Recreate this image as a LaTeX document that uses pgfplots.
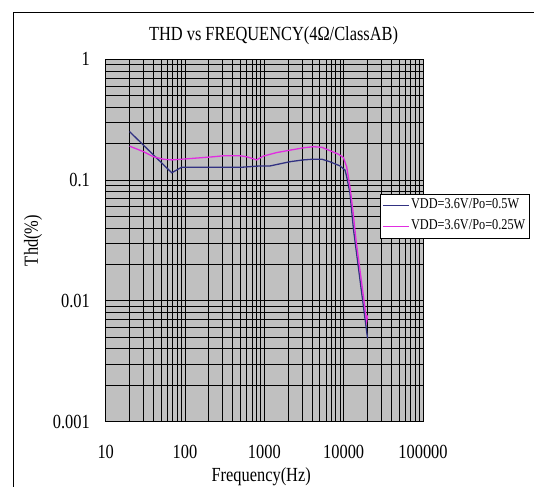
\documentclass[border=0pt]{standalone}
\usepackage{fontspec}
\setmainfont{Liberation Serif}[FakeStretch=0.82]
\usepackage{pgfplots}
\pgfplotsset{compat=1.18}
\definecolor{bgray}{RGB}{192,192,192}
\definecolor{navyline}{RGB}{50,50,130}
\definecolor{magline}{RGB}{225,45,225}
\pgfplotstableread{
f thd
20 0.252
68 0.115
91 0.128
540 0.128
880 0.131
1180 0.131
2100 0.142
3100 0.147
4150 0.149
5300 0.149
6700 0.142
9000 0.131
10400 0.121
10900 0.107
12000 0.078
13300 0.039
20000 0.0049
}\seriesA
\pgfplotstableread{
f thd
20 0.191
30 0.172
40 0.156
53 0.149
68 0.147
91 0.149
155 0.153
227 0.156
304 0.159
494 0.159
600 0.156
727 0.150
800 0.147
970 0.158
1430 0.169
2110 0.177
3100 0.185
4150 0.189
5300 0.187
6740 0.175
8570 0.164
9900 0.154
10900 0.129
12000 0.088
13200 0.053
14300 0.032
19500 0.0068
20000 0.0076
}\seriesB
\begin{document}
\begin{tikzpicture}
\useasboundingbox (0,0) rectangle (534bp,-487bp);
\fill[white] (0,0) rectangle (534bp,-487bp);
\draw[line width=1.2bp] (13.5bp,-12.5bp) rectangle (620bp,-620bp);
\begin{axis}[
  at={(105.7bp,-421.7bp)}, anchor=south west,
  scale only axis, width=317.3bp, height=362.4bp,
  xmode=log, ymode=log,
  xmin=10, xmax=100000, ymin=0.001, ymax=1,
  axis background/.style={fill=bgray},
  grid=both,
  major grid style={black, line width=1bp},
  minor grid style={black, line width=1bp},
  major tick length=0pt, minor tick length=0pt,
  axis line style={black, line width=1bp},
  xtick={10,100,1000,10000,100000},
  xticklabels={10,100,1000,10000,100000},
  minor xtick={20,30,40,50,60,70,80,90,200,300,400,500,600,700,800,900,2000,3000,4000,5000,6000,7000,8000,9000,20000,30000,40000,50000,60000,70000,80000,90000},
  ytick={0.001,0.01,0.1,1},
  yticklabels={0.001,0.01,0.1,1},
  minor ytick={0.002,0.003,0.004,0.005,0.006,0.007,0.008,0.009,0.02,0.03,0.04,0.05,0.06,0.07,0.08,0.09,0.2,0.3,0.4,0.5,0.6,0.7,0.8,0.9},
  /pgf/number format/assume math mode=true,
  ticklabel style={font=\fontsize{20bp}{24bp}\selectfont, inner sep=0pt},
  yticklabel style={anchor=east, xshift=-15.7bp},
  xticklabel style={anchor=north, yshift=-23.3bp},
  title={THD vs FREQUENCY(4Ω/ClassAB)},
  title style={at={(axis description cs:0.529,1.048)}, anchor=center, font=\fontsize{20bp}{24bp}\selectfont, inner sep=0pt},
  xlabel={Frequency(Hz)},
  xlabel style={at={(axis description cs:0.49,-0.1526)}, anchor=center, font=\fontsize{20bp}{24bp}\selectfont, inner sep=0pt},
  ylabel={Thd(\%)},
  ylabel style={at={(axis description cs:-0.229,0.5)}, anchor=center, rotate=0, font=\fontsize{20bp}{24bp}\selectfont, inner sep=0pt},
  legend style={at={(axis description cs:0.8645,0.6283)}, anchor=north west,
    draw=black, fill=white, inner xsep=2bp, inner ysep=1bp,
    row sep=0pt, column sep=0pt,
    font=\fontsize{15bp}{18bp}\selectfont,
    nodes={inner xsep=1.5bp, inner ysep=0pt, text height=13bp, text depth=8bp}},
  legend cell align=left,
  legend image code/.code={\draw[#1] (0bp,0bp) -- (26bp,0bp);},
]
\addplot[navyline, line width=1.3bp, no markers] table[x=f, y=thd] {\seriesA};
\addlegendentry{VDD=3.6V/Po=0.5W}
\addplot[magline, line width=1.3bp, no markers] table[x=f, y=thd] {\seriesB};
\addlegendentry{VDD=3.6V/Po=0.25W}
\end{axis}
\end{tikzpicture}
\end{document}
